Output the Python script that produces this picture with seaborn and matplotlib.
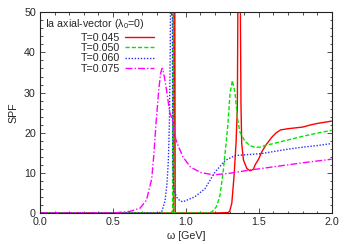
import numpy as np
import pandas as pd
import matplotlib
matplotlib.use("Agg")
import matplotlib.pyplot as plt
import seaborn as sns

# ---- data ----
labels = ["T=0.045", "T=0.050", "T=0.060", "T=0.075"]

w_045 = [0.0, 0.5, 0.9, 0.915, 0.918, 0.921, 0.924, 0.927, 0.93, 1.0, 1.2, 1.29, 1.30,
         1.315, 1.33, 1.344, 1.353, 1.358, 1.365, 1.372, 1.378, 1.383, 1.395, 1.418,
         1.44, 1.463, 1.475, 1.5, 1.52, 1.55, 1.59, 1.62, 1.65, 1.7, 1.75, 1.8, 1.85,
         1.9, 1.95, 2.0]
s_045 = [0.0, 0.0, 0.0, 0.0, 60.0, 200.0, 60.0, 0.5, 0.0, 0.0, 0.0, 0.1, 0.4,
         2.4, 9.0, 17.3, 26.0, 60.0, 150.0, 60.0, 27.0, 17.3, 13.2, 11.1,
         10.5, 10.9, 12.0, 13.5, 15.2, 17.0, 18.9, 20.0, 20.7, 21.0, 21.2, 21.4, 21.9,
         22.3, 22.6, 22.9]

w_050 = [0.0, 0.5, 0.9, 0.909, 0.911, 0.913, 0.915, 0.917, 0.92, 1.0, 1.15, 1.18,
         1.21, 1.235, 1.257, 1.275, 1.287, 1.303, 1.319, 1.337, 1.353, 1.37, 1.406,
         1.44, 1.47, 1.51, 1.54, 1.6, 1.7, 1.8, 1.9, 2.0]
s_050 = [0.0, 0.0, 0.0, 0.0, 60.0, 200.0, 60.0, 0.5, 0.0, 0.0, 0.0, 0.3,
         1.6, 4.5, 10.7, 17.0, 21.5, 29.8, 33.0, 30.0, 24.0, 20.2, 17.8,
         16.8, 16.4, 16.4, 16.8, 17.3, 18.2, 19.1, 19.9, 20.6]

w_060 = [0.0, 0.5, 0.8, 0.834, 0.857, 0.87, 0.88, 0.887, 0.893, 0.9, 0.905, 0.908,
         0.911, 0.915, 0.925, 0.94, 0.96, 0.98, 1.0, 1.06, 1.13, 1.2, 1.27, 1.337,
         1.406, 1.52, 1.6, 1.7, 1.8, 1.9, 2.0]
s_060 = [0.0, 0.0, 0.0, 0.2, 3.0, 7.0, 13.0, 22.0, 40.0, 100.0, 150.0, 40.0,
         12.0, 7.0, 5.0, 3.8, 3.0, 2.8, 3.1, 4.0, 6.0, 10.2, 13.1, 14.3,
         14.5, 14.8, 15.3, 15.9, 16.4, 16.8, 17.3]

w_075 = [0.0, 0.5, 0.617, 0.686, 0.73, 0.766, 0.78, 0.796, 0.815, 0.828, 0.837, 0.847,
         0.857, 0.87, 0.88, 0.89, 0.905, 0.915, 0.93, 0.95, 0.98, 1.03, 1.1, 1.19,
         1.3, 1.44, 1.6, 1.8, 2.0]
s_075 = [0.0, 0.0, 0.4, 1.2, 3.2, 8.5, 14.3, 22.6, 31.0, 35.0, 36.0, 35.0,
         33.0, 30.0, 27.5, 25.0, 23.5, 22.0, 18.5, 16.5, 14.0, 11.5, 10.1, 9.5,
         9.9, 10.7, 11.5, 12.5, 13.4]

x_ticks = [0.0, 0.5, 1.0, 1.5, 2.0]
y_ticks = [0, 10, 20, 30, 40, 50]

# ---- styling ----
sns.set_style("ticks")
plt.rcParams['font.family'] = ['Liberation Sans', 'DejaVu Sans']
plt.rcParams['mathtext.fontset'] = 'custom'
plt.rcParams['mathtext.rm'] = 'Liberation Sans'
plt.rcParams['mathtext.it'] = 'Liberation Sans'

colors = ["#ff0000", "#00e600", "#2a2aff", "#ff00ff"]
styles = ["-", (0, (3, 1.5)), (0, (1, 1.2)), (0, (5, 1.5, 1, 1.5))]
FS = 7.7

fig = plt.figure(figsize=(3.49, 2.44), dpi=100)
ax = fig.add_axes([40 / 349, 1 - 213 / 244, (331.7 - 40) / 349, (213 - 12.3) / 244])

series = [(w_045, s_045), (w_050, s_050), (w_060, s_060), (w_075, s_075)]
handles = []
for (w, s), lab, c, ls in zip(series, labels, colors, styles):
    df = pd.DataFrame({"omega": w, "SPF": s})
    sns.lineplot(data=df, x="omega", y="SPF", ax=ax, color=c, linewidth=1.0,
                 estimator=None, sort=False, label=lab)
    line = ax.get_lines()[-1]
    line.set_linestyle(ls)
    handles.append(line)

ax.set_xlim(0, 2.0)
ax.set_ylim(0, 50)
ax.set_xticks(x_ticks)
ax.set_xticklabels(["%.1f" % v for v in x_ticks])
ax.set_yticks(y_ticks)
ax.set_xticks(np.arange(0, 2.001, 0.1), minor=True)
ax.set_yticks(np.arange(0, 50.01, 2), minor=True)
ax.tick_params(which='both', direction='in', top=True, right=True, labelsize=FS,
               color='#333333', width=0.6, pad=3)
ax.tick_params(which='major', length=3.5)
ax.tick_params(which='minor', length=1.8)
for sp in ax.spines.values():
    sp.set_linewidth(0.8)
    sp.set_color('#222222')

ax.set_xlabel("ω [GeV]", fontsize=FS, labelpad=3)
ax.set_ylabel("SPF", fontsize=FS, labelpad=4)

ax.text((45 - 40) / 291.7, 1 - (24 - 12.3) / 200.7, "Ia axial-vector (λ$_0$=0)",
        transform=ax.transAxes, fontsize=FS, va='center', ha='left')
leg = ax.legend(handles=handles, labels=labels, loc='upper left', markerfirst=False,
                frameon=False, fontsize=FS, handlelength=2.7, handletextpad=0.45,
                labelspacing=0.02, borderpad=0, borderaxespad=0,
                bbox_to_anchor=((81 - 40) / 291.7, 1 - (33 - 12.3) / 200.7))

fig.savefig("out.png", dpi=100)
